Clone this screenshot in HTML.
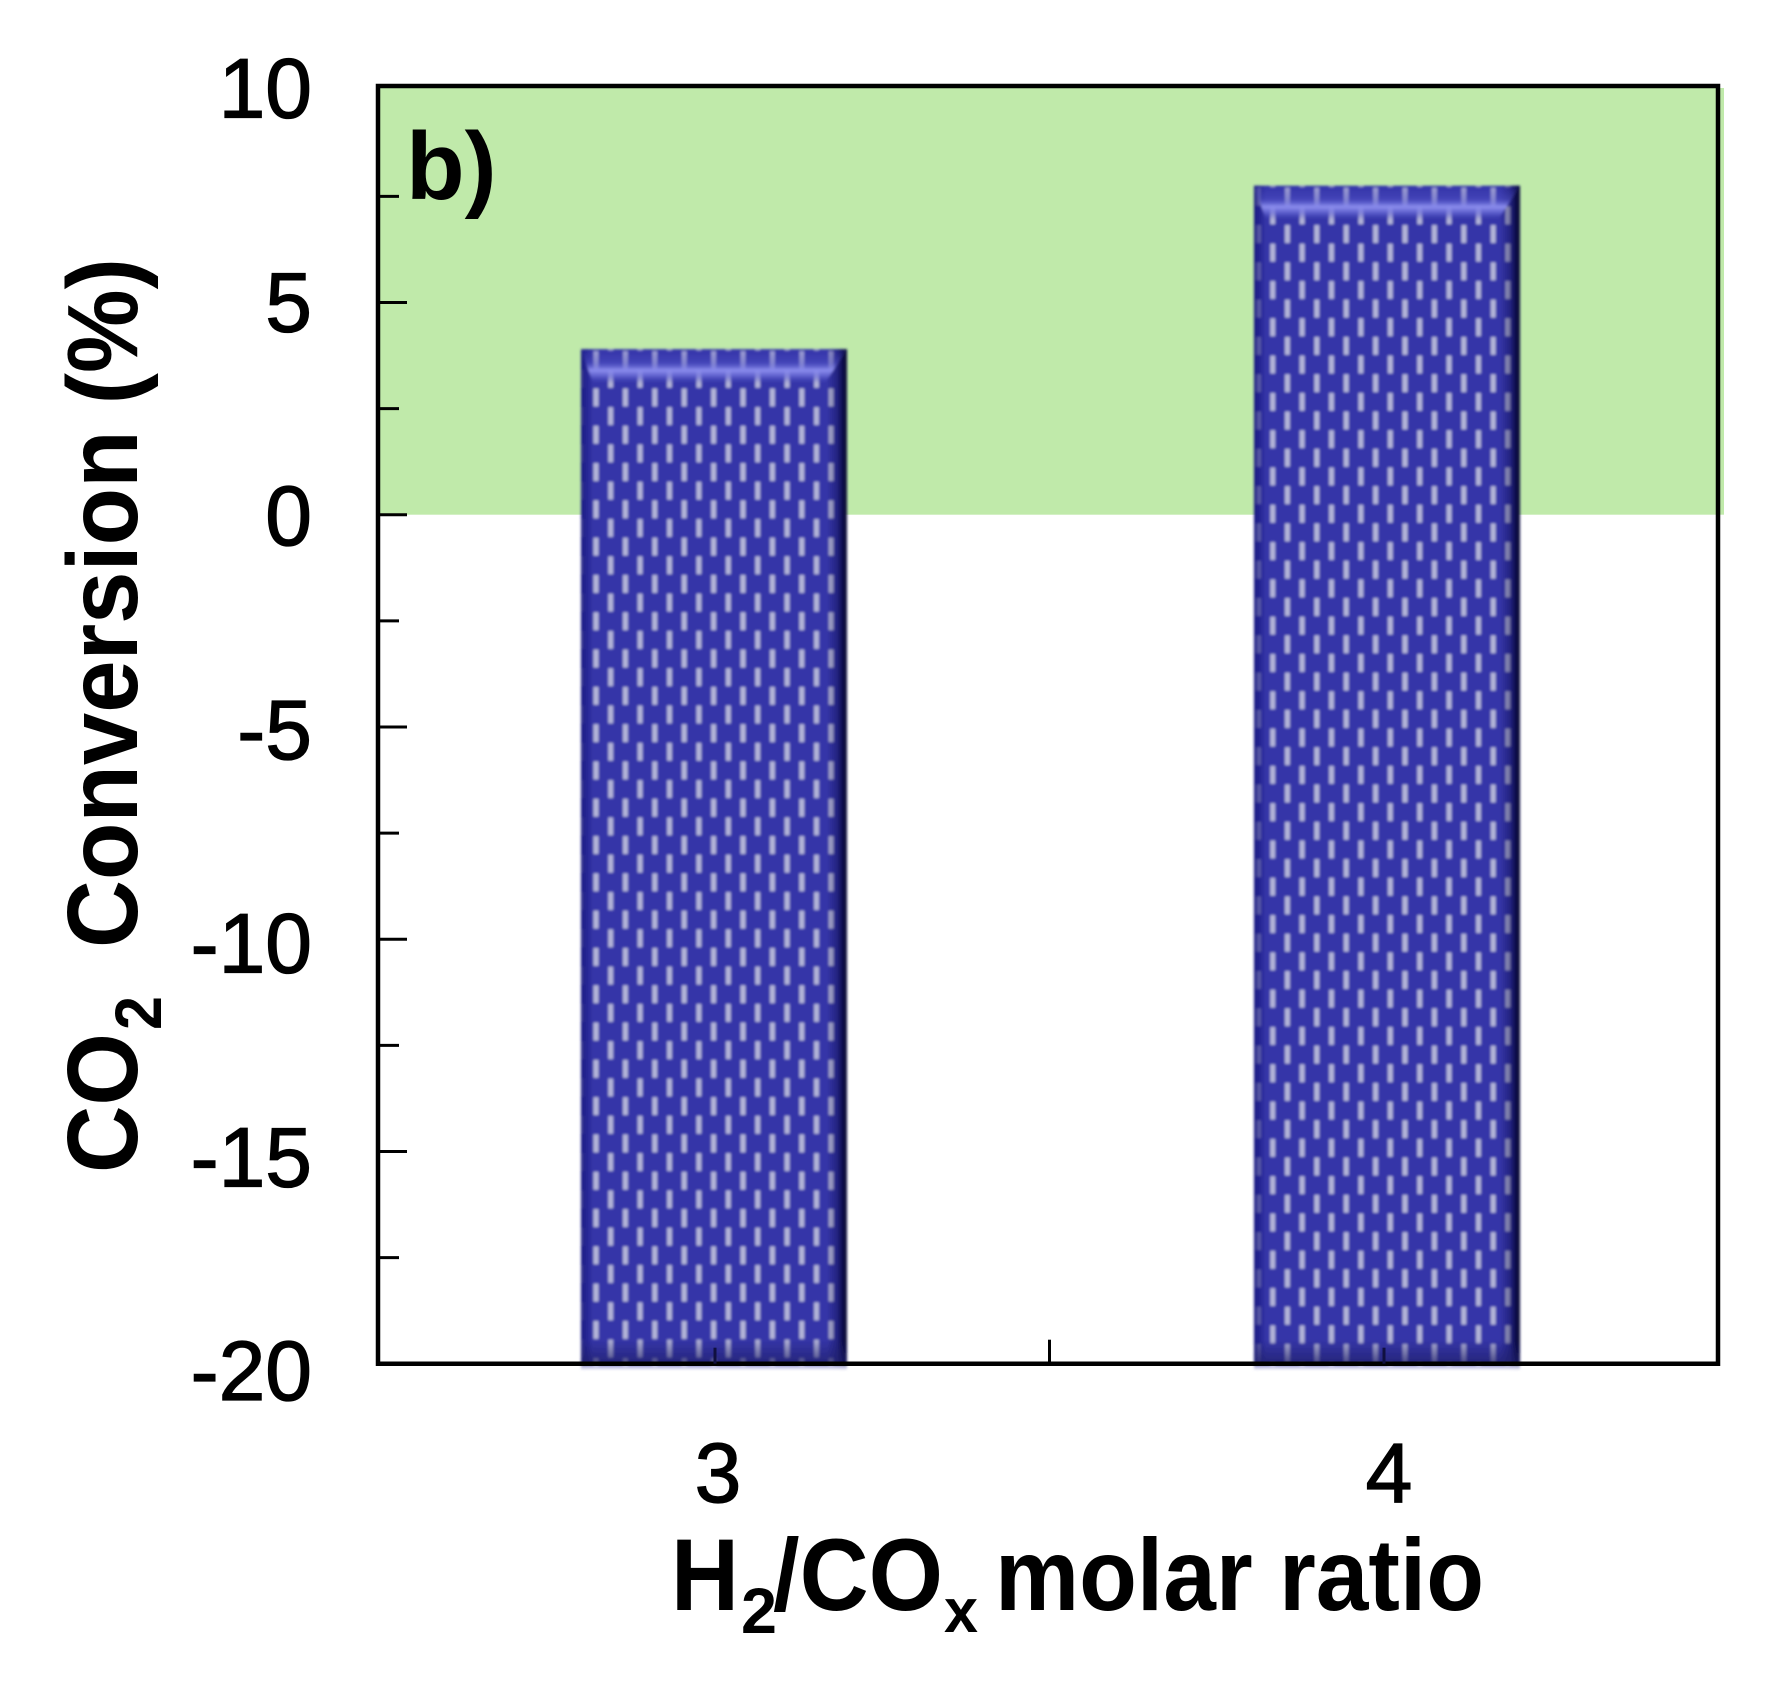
<!DOCTYPE html>
<html lang="en">
<head>
<meta charset="utf-8">
<title>CO2 conversion vs H2/COx molar ratio</title>
<style>
  html, body { margin: 0; padding: 0; background: #fff; width: 1768px; height: 1681px; overflow: hidden; }
  svg { display: block; }
  text { font-family: "Liberation Sans", Arial, sans-serif; fill: #000; }
  .tick-label { font-size: 84px; stroke: #000; stroke-width: 1.3px; }
  .bold { font-weight: bold; }
</style>
</head>
<body>
<svg id="chart" xmlns="http://www.w3.org/2000/svg" width="1768" height="1681" viewBox="0 0 1768 1681">
  <defs>
    <filter id="soft" x="-5%" y="-5%" width="110%" height="110%"><feGaussianBlur stdDeviation="1.3"/></filter>
    <linearGradient id="right-edge" x1="0" x2="1" y1="0" y2="0">
      <stop offset="0" stop-color="#0a0a48" stop-opacity="0"/>
      <stop offset="0.5" stop-color="#0a0a48" stop-opacity="0.4"/>
      <stop offset="0.85" stop-color="#07073c" stop-opacity="1"/>
      <stop offset="1" stop-color="#07073c" stop-opacity="1"/>
    </linearGradient>
    <linearGradient id="left-edge" x1="0" x2="1" y1="0" y2="0">
      <stop offset="0" stop-color="#181880" stop-opacity="1"/>
      <stop offset="1" stop-color="#181880" stop-opacity="0"/>
    </linearGradient>
    <linearGradient id="top-edge" x1="0" x2="0" y1="0" y2="1">
      <stop offset="0" stop-color="#3a3ab4" stop-opacity="0.15"/>
      <stop offset="0.4" stop-color="#5254c8" stop-opacity="0.5"/>
      <stop offset="0.62" stop-color="#8c8eee" stop-opacity="1"/>
      <stop offset="0.78" stop-color="#7072dc" stop-opacity="0.75"/>
      <stop offset="1" stop-color="#4a4cc0" stop-opacity="0"/>
    </linearGradient>
    <linearGradient id="bottom-edge" x1="0" x2="0" y1="0" y2="1">
      <stop offset="0" stop-color="#20206a" stop-opacity="0"/>
      <stop offset="1" stop-color="#20206a" stop-opacity="0.75"/>
    </linearGradient>
  </defs>
  <g id="plot-layer"></g>
  <text class="bold" x="406" y="199" font-size="96">b)</text>

  <g>
    <text class="bold" font-size="100" transform="translate(137 1173) rotate(-90)" textLength="140" lengthAdjust="spacingAndGlyphs">CO</text>
    <text class="bold" font-size="66" transform="translate(161 1030) rotate(-90)" textLength="34" lengthAdjust="spacingAndGlyphs">2</text>
    <text class="bold" font-size="100" transform="translate(137 948) rotate(-90)" textLength="690" lengthAdjust="spacingAndGlyphs">Conversion (%)</text>
  </g>

  <g>
    <text class="bold" font-size="102" x="671" y="1610" textLength="68" lengthAdjust="spacingAndGlyphs">H</text>
    <text class="bold" font-size="64" x="741" y="1633" textLength="36" lengthAdjust="spacingAndGlyphs">2</text>
    <text class="bold" font-size="102" x="773" y="1610" textLength="170" lengthAdjust="spacingAndGlyphs">/CO</text>
    <text class="bold" font-size="62" x="944" y="1632" textLength="34" lengthAdjust="spacingAndGlyphs">x</text>
    <text class="bold" font-size="102" x="995" y="1610" textLength="489" lengthAdjust="spacingAndGlyphs">molar ratio</text>
  </g>
</svg>

<script>
// ---- chart data ----
const categories = [3, 4];
const conversionValues = [3.9, 7.75];
const yMajorTicks = [10, 5, 0, -5, -10, -15, -20];
const yMinorTicks = [7.5, 2.5, -2.5, -7.5, -12.5, -17.5];
const yTickLabels = ['10', '5', '0', '-5', '-10', '-15', '-20'];
const xTicks = [3, 3.5, 4];
const xTickLabels = ['3', '4'];

// ---- axis functions ----
const yScale = v => 514.7 - 42.45 * v;
const xScale = v => 715 + 669 * (v - 3);      // tick positions
const xBarScale = v => 714 + 673 * (v - 3);   // bar centres
const xLabelScale = v => 718 + 671 * (v - 3); // tick label centres
const yLabelBaseline = v => 545 - 42.75 * v;

const FRAME_LEFT = 378;
const FRAME_RIGHT = 1718;
const FRAME_TOP = 86;
const FRAME_BOTTOM = yScale(-20);
const BAR_WIDTH = 266;
const PATTERN_W = 29.4;
const PATTERN_H = 37.3;
const DASH_W = 5;
const DASH_H = 18;
const DASH_FILL = '#b4b5d8';

const NS = 'http://www.w3.org/2000/svg';
const layer = document.getElementById('plot-layer');
const defs = document.querySelector('#chart defs');

function make(tag, attrs, parent) {
  const el = document.createElementNS(NS, tag);
  for (const k in attrs) el.setAttribute(k, attrs[k]);
  (parent || layer).appendChild(el);
  return el;
}

// green positive-conversion region
const region = make('rect', { x: FRAME_LEFT, y: FRAME_TOP + 2, width: 1724 - FRAME_LEFT, height: yScale(0) - FRAME_TOP - 2, fill: '#c0eaaa' });



// bars
categories.forEach((cat, i) => {
  const cx = xBarScale(cat);
  const left = cx - BAR_WIDTH / 2;
  const top = yScale(conversionValues[i]);
  const bottom = FRAME_BOTTOM + 5;
  const h = bottom - top;

  const pat = make('pattern', {
    id: 'dash-' + i,
    patternUnits: 'userSpaceOnUse',
    width: PATTERN_W,
    height: PATTERN_H,
    patternTransform: 'translate(' + (left + 15 - 11 * i) + ' ' + (top + 11) + ')'
  }, defs);
  [[0, 0], [0, 1], [1, 0], [1, 1], [0.5, 0.5]].forEach(p => {
    make('rect', {
      x: PATTERN_W * p[0] - DASH_W / 2,
      y: PATTERN_H * p[1] - DASH_H / 2,
      width: DASH_W,
      height: DASH_H,
      fill: DASH_FILL
    }, pat);
  });

  const g = make('g', { filter: 'url(#soft)' });
  
  
  make('rect', { x: left, y: top, width: BAR_WIDTH, height: h, fill: '#3535a8' }, g);
  make('rect', { x: left, y: top, width: BAR_WIDTH, height: h, fill: 'url(#dash-' + i + ')' }, g);
  make('rect', { x: left, y: top, width: 12, height: h, fill: 'url(#left-edge)' }, g);
  make('rect', { x: left + BAR_WIDTH - 20, y: top, width: 20, height: h, fill: 'url(#right-edge)' }, g);
  make('polygon', {
    points: left + ',' + top + ' ' + (left + BAR_WIDTH) + ',' + top + ' ' +
            (left + BAR_WIDTH - 22) + ',' + (top + 34) + ' ' + (left + 12) + ',' + (top + 34),
    fill: 'url(#top-edge)'
  }, g);
  make('rect', { x: left, y: FRAME_BOTTOM - 24, width: BAR_WIDTH, height: 24, fill: 'url(#bottom-edge)' }, g);
  make('rect', { x: left, y: FRAME_BOTTOM + 2, width: BAR_WIDTH, height: 3, fill: '#cfcfee' }, g);
});

// frame
const frame = make('path', {
  d: 'M' + FRAME_LEFT + ' ' + FRAME_BOTTOM + 'V' + FRAME_TOP + 'H' + FRAME_RIGHT + 'V' + FRAME_BOTTOM + 'Z',
  fill: 'none', stroke: '#000', 'stroke-width': 4.5
});



// y ticks + labels
yMajorTicks.forEach((v, i) => {
  if (v !== 10 && v !== -20) {
    const t = make('line', { x1: FRAME_LEFT, x2: FRAME_LEFT + 29, y1: yScale(v), y2: yScale(v), stroke: '#000', 'stroke-width': 3 });
    
    
  }
  const lab = make('text', { x: 312, y: yLabelBaseline(v), 'text-anchor': 'end', class: 'tick-label' });
  
  
  lab.textContent = yTickLabels[i];
});
yMinorTicks.forEach(v => {
  const t = make('line', { x1: FRAME_LEFT, x2: FRAME_LEFT + 21, y1: yScale(v), y2: yScale(v), stroke: '#000', 'stroke-width': 3 });
  
  
});

// x ticks + labels
xTicks.forEach(v => {
  const isCategory = categories.includes(v);
  const t = make('line', { x1: xScale(v), x2: xScale(v), y1: FRAME_BOTTOM, y2: FRAME_BOTTOM - (isCategory ? 16 : 24), stroke: isCategory ? '#101040' : '#000', 'stroke-width': 3 });
  
  
});
categories.forEach((cat, i) => {
  const lab = make('text', { x: xLabelScale(cat), y: 1502, 'text-anchor': 'middle', class: 'tick-label' });
  
  
  lab.textContent = xTickLabels[i];
});
</script>
</body>
</html>
